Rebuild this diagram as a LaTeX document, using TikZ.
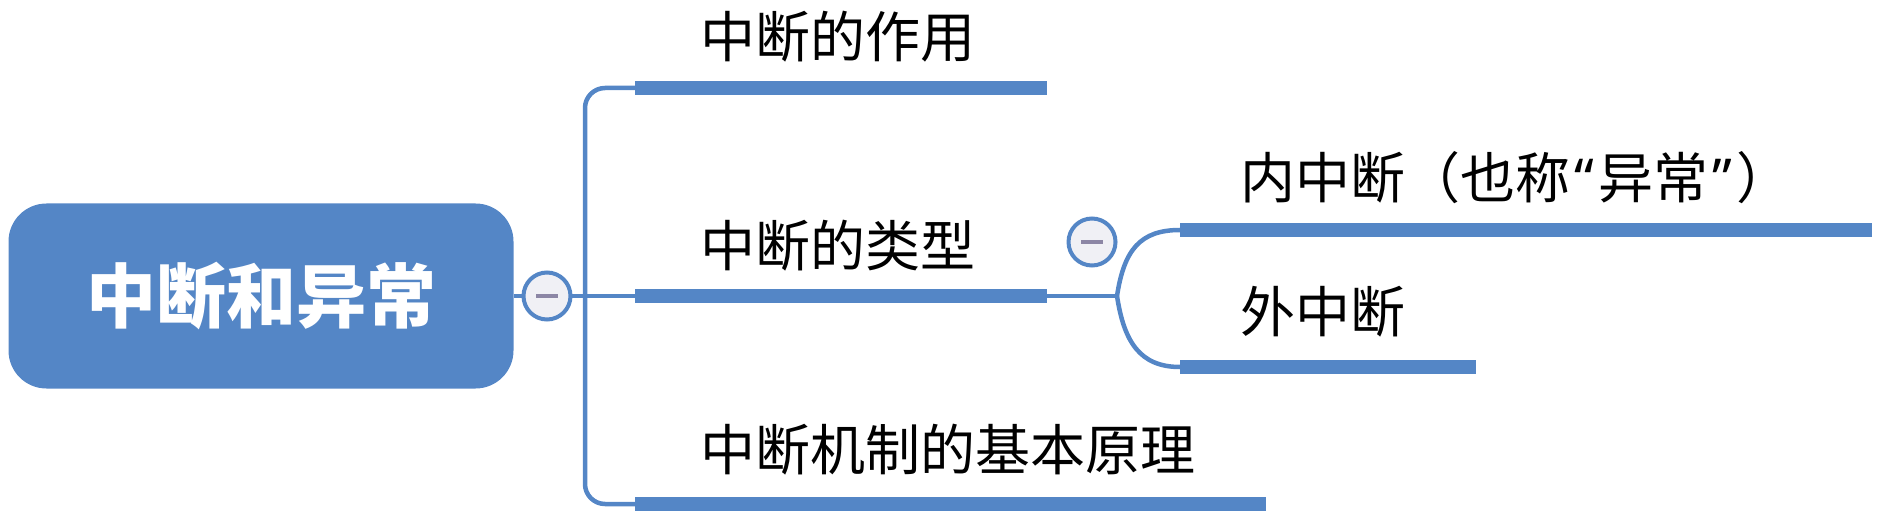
\documentclass[tikz,border=0pt]{standalone}
\usepackage{fontspec}
\newfontfamily\cjk{Noto Sans CJK SC}
\newfontfamily\lat{Noto Sans}
\usetikzlibrary{calc}
\definecolor{xblue}{RGB}{84,134,198}
\definecolor{xknob}{RGB}{240,240,245}
\definecolor{xminus}{RGB}{140,134,165}
\newcommand{\qmark}[1]{{\lat\makebox[28pt]{#1}}}
\begin{document}
\begin{tikzpicture}[x=1pt, y=-1pt]
\tikzstyle{root}=[fill=xblue, rounded corners=38pt, minimum width=505pt, minimum height=185pt, text=white, font=\cjk\bfseries\fontsize{70}{70}\selectfont]
\tikzstyle{topic}=[anchor=west, inner sep=0pt, font=\cjk\fontsize{55}{55}\selectfont]
\tikzstyle{knob}=[circle, draw=xblue, line width=4pt, fill=xknob, minimum size=47pt, inner sep=0pt]
\tikzstyle{bar}=[xblue, line width=14pt]
\tikzstyle{wire}=[xblue, line width=4.5pt]
\tikzstyle{minus}=[xminus, line width=4pt]
\useasboundingbox (0,0) rectangle (1881,521);
\node[root] (R) at (261,296) {中断和异常};
\coordinate (J)   at (585,296);
\coordinate (K)   at (1117,296);
\coordinate (b1s) at (635,88);   \coordinate (b1e) at (1047,88);
\coordinate (b2s) at (635,296);  \coordinate (b2e) at (1047,296);
\coordinate (b3s) at (635,504);  \coordinate (b3e) at (1266,504);
\coordinate (b4s) at (1180,230); \coordinate (b4e) at (1872,230);
\coordinate (b5s) at (1180,367); \coordinate (b5e) at (1476,367);
\draw[wire] (R.east) -- (J) -- (b2s);
\draw[wire, rounded corners=20pt] (b1s) -- (J |- b1s) -- (J |- b3s) -- (b3s);
\draw[wire] (b2e) -- (K);
\draw[wire] (K) .. controls (1124,250) and (1140,230) .. (b4s);
\draw[wire] (K) .. controls (1124,342) and (1140,367) .. (b5s);
\foreach \b in {1,...,5}
  \draw[bar] (b\b s) -- (b\b e);
\node[knob] (fold1) at (547,296) {};
\node[knob] (fold2) at (1092,242) {};
\foreach \f in {fold1, fold2}
  \draw[minus] ([xshift=-11pt]\f.center) -- ([xshift=11pt]\f.center);
\node[topic] (t1) at (700,37)   {中断的作用};
\node[topic] (t2) at (700,246)  {中断的类型};
\node[topic] (t3) at (700,450)  {中断机制的基本原理};
\node[topic] (t4) at (1240,178) {内中断（也称\qmark{“}异常\qmark{”}）};
\node[topic] (t5) at (1240,312) {外中断};
\end{tikzpicture}
\end{document}
